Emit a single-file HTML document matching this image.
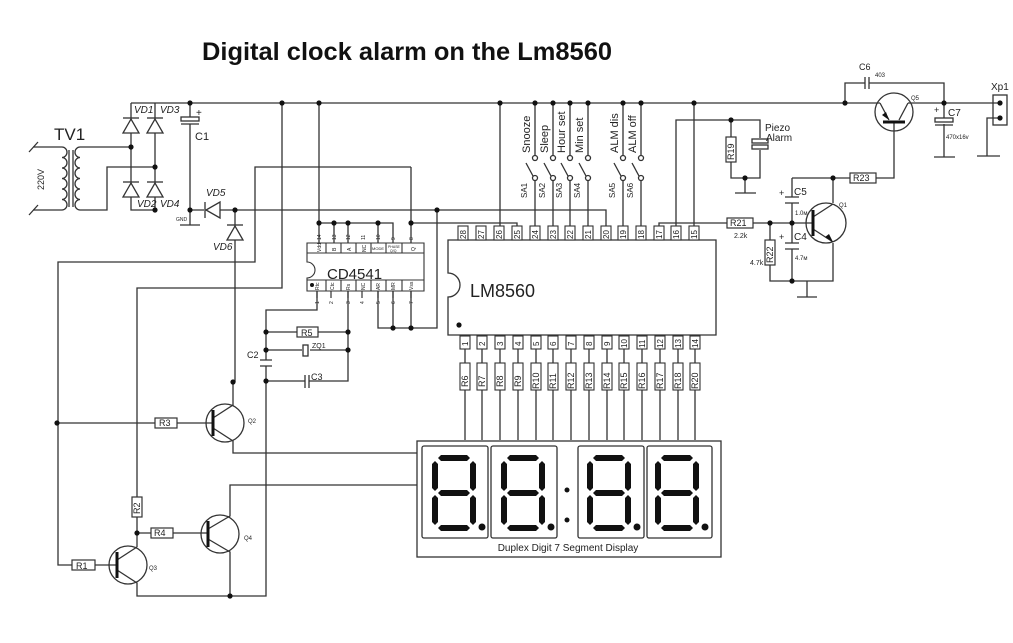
<!DOCTYPE html>
<html><head><meta charset="utf-8"><style>
html,body{margin:0;padding:0;background:#fff}
svg{display:block}
text{font-family:"Liberation Sans",sans-serif;fill:#222}
</style></head><body>
<svg width="1013" height="643" viewBox="0 0 1013 643" xmlns="http://www.w3.org/2000/svg">
<defs>
<g id="dig">
<polygon points="6,3 9,0 35,0 38,3 35,6 9,6" />
<polygon points="6,38 9,35 35,35 38,38 35,41 9,41" />
<polygon points="6,73 9,70 35,70 38,73 35,76 9,76" />
<polygon points="3,6 6,9 6,33 3,36 0,33 0,9" />
<polygon points="41,6 44,9 44,33 41,36 38,33 38,9" />
<polygon points="3,40 6,43 6,67 3,70 0,67 0,43" />
<polygon points="41,40 44,43 44,67 41,70 38,67 38,43" />
<circle cx="50" cy="72" r="3.5"/>
</g>
</defs>
<rect width="1013" height="643" fill="#fff"/>
<text x="202" y="60" font-size="25" font-weight="bold" textLength="410" lengthAdjust="spacingAndGlyphs" style="fill:#111">Digital clock alarm on the Lm8560</text>

<g stroke="#333" stroke-width="1.3" fill="none">
<!-- top rail -->
<path d="M131 103 H880 M908 103 H1000"/>
<!-- bridge -->
<path d="M131 103 V210 H155 M155 103 V210"/>
<path d="M131 147 H80 M155 167 H107 V210 H80"/>
<!-- transformer -->
<path d="M33 147 H62 M33 210 H62"/>
<path d="M62 147 a5 5.25 0 0 1 0 10.5 a5 5.25 0 0 1 0 10.5 a5 5.25 0 0 1 0 10.5 a5 5.25 0 0 1 0 10.5 a5 5.25 0 0 1 0 10.5 a5 5.25 0 0 1 0 10.5"/>
<path d="M80 147 a5 5.25 0 0 0 0 10.5 a5 5.25 0 0 0 0 10.5 a5 5.25 0 0 0 0 10.5 a5 5.25 0 0 0 0 10.5 a5 5.25 0 0 0 0 10.5 a5 5.25 0 0 0 0 10.5"/>
<path d="M69 150 V207 M73 150 V207"/>
<path d="M29 152 L38 142 M29 215 L38 205"/>
<!-- C1 -->
<path d="M190 103 V117 M190 124 V225 M180 225 H200"/>
<rect x="181" y="117" width="18" height="4"/>
<path d="M181 124 H199"/>
<!-- GND line -->
<path d="M190 210 H204 M220 210 H606 V230"/>
<!-- VD6 -->
<path d="M235 210 V382"/>
<!-- CD4541 connections -->
<path d="M319 103 V243 M319 223 H393 V243 M334 223 V243 M348 223 V243 M378 223 V243"/>
<path d="M411 167 H255 V262 H58 V565 H72 M95 565 H117"/>
<path d="M411 167 V243 M411 223 H517 V230"/>
<path d="M282 103 V288 H137 V497 M137 517 V547"/>
<path d="M437 210 V328 H378 V291 M393 291 V328 M411 291 V328"/>
<path d="M317 291 V310 H266 V360 M266 366 V596 H230 M266 332 H297 M318 332 H348 M348 291 V381 H309 M305 381 H266"/>
<path d="M266 350 H302 M310 350 H348"/>
<path d="M260 360 H272 M260 366 H272 M305 375 V388 M309 375 V388"/>
<rect x="303" y="345" width="5" height="11"/>
<!-- Q2 -->
<path d="M57 423 H155 M177 423 H213"/>
<circle cx="225" cy="423" r="19"/>
<path d="M213 410 V436 M213 418 L233 405 V382 M213 428 L233 441 V453 H417"/>
<!-- Q4 -->
<path d="M137 533 H151 M173 533 H208"/>
<circle cx="220" cy="534" r="19"/>
<path d="M208 521 V547 M208 529 L230 516 V485 H417 M208 539 L230 552 V596"/>
<!-- Q3 -->
<circle cx="128" cy="565" r="19"/>
<path d="M117 552 V578 M117 560 L137 547 M117 570 L137 583 V596 H230"/>
<!-- LM8560 box -->
<path d="M448 240 H716 V335 H448 V297 A12 12 0 0 0 448 273 Z"/>
<!-- pin26 & pin15 to rail -->
<path d="M500 103 V230 M694 103 V230"/>
<!-- switches -->
<path d="M535 103 V155 M535 181 V230 M553 103 V155 M553 181 V230 M570 103 V155 M570 181 V230 M588 103 V155 M588 181 V230 M623 103 V155 M623 181 V230 M641 103 V155 M641 181 V230"/>
<path d="M533 176 L526 163 M551 176 L544 163 M568 176 L561 163 M586 176 L579 163 M621 176 L614 163 M639 176 L632 163"/>
<g fill="#fff">
<circle cx="535" cy="158" r="2.5"/><circle cx="535" cy="178" r="2.5"/>
<circle cx="553" cy="158" r="2.5"/><circle cx="553" cy="178" r="2.5"/>
<circle cx="570" cy="158" r="2.5"/><circle cx="570" cy="178" r="2.5"/>
<circle cx="588" cy="158" r="2.5"/><circle cx="588" cy="178" r="2.5"/>
<circle cx="623" cy="158" r="2.5"/><circle cx="623" cy="178" r="2.5"/>
<circle cx="641" cy="158" r="2.5"/><circle cx="641" cy="178" r="2.5"/>
</g>
<!-- pin16 piezo -->
<path d="M676 230 V120 H760 V138 M760 150 V178 H731 V162 M731 137 V120 M745 178 V193 M735 193 H756"/>
<rect x="752" y="139" width="16" height="4"/><rect x="752" y="145" width="16" height="4"/>
<!-- pin17 -->
<path d="M659 230 V223 H727 M753 223 H813 M770 223 V240 M770 265 V281 H833 V243 M807 281 V297 M797 297 H817"/>
<path d="M792 178 V197 M792 203 V243 M792 249 V281 M785 197 H799 M785 203 H799 M785 243 H799 M785 249 H799"/>
<path d="M792 178 H850 M876 178 H894 V122 M833 178 V203"/>
<circle cx="826" cy="223" r="20"/>
<path d="M813 210 V236 M813 217 L833 204 M813 229 L833 242"/>
<!-- Q5, C6, C7, Xp1 -->
<path d="M845 103 V83 H865 M869 83 H944 V103 M865 77 V89 M869 77 V89"/>
<circle cx="894" cy="112" r="19"/>
<path d="M880 103 L889 120 M908 103 L899 120 M883 122 H905"/>
<path d="M944 103 V118 M944 124 V157 M934 157 H955"/>
<rect x="935" y="118" width="18" height="4"/><path d="M935 125 H953"/>
<rect x="993" y="95" width="14" height="30"/>
<path d="M1000 118 H987 V156 M977 156 H1000"/>
<!-- bottom pins to display -->
<path d="M465 335 V440 M482 335 V440 M500 335 V440 M518 335 V440 M536 335 V440 M553 335 V440 M571 335 V440 M589 335 V440 M607 335 V440 M624 335 V440 M642 335 V440 M660 335 V440 M678 335 V440 M695 335 V440"/>
<!-- display -->
<rect x="417" y="441" width="304" height="116"/>
<rect x="422" y="446" width="66" height="92" rx="2"/>
<rect x="491" y="446" width="66" height="92" rx="2"/>
<rect x="578" y="446" width="66" height="92" rx="2"/>
<rect x="647" y="446" width="65" height="92" rx="2"/>
</g>

<!-- diodes -->
<g stroke="#333" stroke-width="1.3" fill="#fff">
<polygon points="123,133 139,133 131,119"/><path d="M123 118 H139"/>
<polygon points="147,133 163,133 155,119"/><path d="M147 118 H163"/>
<polygon points="123,197 139,197 131,183"/><path d="M123 182 H139"/>
<polygon points="147,197 163,197 155,183"/><path d="M147 182 H163"/>
<polygon points="220,202 220,218 206,210"/><path d="M205 202 V218"/>
<polygon points="227,240 243,240 235,226"/><path d="M227 225 H243"/>
</g>
<!-- resistors -->
<g stroke="#333" stroke-width="1.2" fill="#fff">
<rect x="297" y="327" width="21" height="10"/>
<rect x="155" y="418" width="22" height="10"/>
<rect x="151" y="528" width="22" height="10"/>
<rect x="72" y="560" width="23" height="10"/>
<rect x="132" y="497" width="10" height="20"/>
<rect x="726" y="137" width="10" height="25"/>
<rect x="727" y="218" width="26" height="10"/>
<rect x="765" y="240" width="10" height="25"/>
<rect x="850" y="173" width="26" height="10"/>
</g>
<g stroke="#333" stroke-width="1.1" fill="#fff">
<rect x="460" y="363" width="10" height="27"/><rect x="477" y="363" width="10" height="27"/><rect x="495" y="363" width="10" height="27"/><rect x="513" y="363" width="10" height="27"/><rect x="531" y="363" width="10" height="27"/><rect x="548" y="363" width="10" height="27"/><rect x="566" y="363" width="10" height="27"/><rect x="584" y="363" width="10" height="27"/><rect x="602" y="363" width="10" height="27"/><rect x="619" y="363" width="10" height="27"/><rect x="637" y="363" width="10" height="27"/><rect x="655" y="363" width="10" height="27"/><rect x="673" y="363" width="10" height="27"/><rect x="690" y="363" width="10" height="27"/>
<!-- LM pin boxes top -->
<rect x="458" y="226" width="10" height="14"/><rect x="476" y="226" width="10" height="14"/><rect x="494" y="226" width="10" height="14"/><rect x="512" y="226" width="10" height="14"/><rect x="530" y="226" width="10" height="14"/><rect x="548" y="226" width="10" height="14"/><rect x="565" y="226" width="10" height="14"/><rect x="583" y="226" width="10" height="14"/><rect x="601" y="226" width="10" height="14"/><rect x="618" y="226" width="10" height="14"/><rect x="636" y="226" width="10" height="14"/><rect x="654" y="226" width="10" height="14"/><rect x="671" y="226" width="10" height="14"/><rect x="689" y="226" width="10" height="14"/>
<!-- bottom -->
<rect x="460" y="336" width="10" height="13"/><rect x="477" y="336" width="10" height="13"/><rect x="495" y="336" width="10" height="13"/><rect x="513" y="336" width="10" height="13"/><rect x="531" y="336" width="10" height="13"/><rect x="548" y="336" width="10" height="13"/><rect x="566" y="336" width="10" height="13"/><rect x="584" y="336" width="10" height="13"/><rect x="602" y="336" width="10" height="13"/><rect x="619" y="336" width="10" height="13"/><rect x="637" y="336" width="10" height="13"/><rect x="655" y="336" width="10" height="13"/><rect x="673" y="336" width="10" height="13"/><rect x="690" y="336" width="10" height="13"/>
<!-- CD4541 -->
<path d="M307 243 H424 V291 H307 V278 A8 8 0 0 0 307 262 Z"/>
<path d="M307 253 H424 M307 280 H424 M326 243 V253 M341 243 V253 M356 243 V253 M371 243 V253 M386 243 V253 M402 243 V253 M326 280 V291 M341 280 V291 M356 280 V291 M371 280 V291 M386 280 V291 M402 280 V291" fill="none"/>
</g>
<path d="M317 291 V298 M331 291 V298 M348 291 V298 M362 291 V298 M378 291 V298 M393 291 V298 M411 291 V298" stroke="#333" stroke-width="1.2"/>

<!-- dots -->
<g fill="#111">
<circle cx="131" cy="147" r="2.6"/><circle cx="155" cy="167" r="2.6"/><circle cx="155" cy="210" r="2.6"/><circle cx="190" cy="103" r="2.6"/><circle cx="190" cy="210" r="2.6"/><circle cx="235" cy="210" r="2.6"/><circle cx="282" cy="103" r="2.6"/><circle cx="319" cy="103" r="2.6"/><circle cx="437" cy="210" r="2.6"/>
<circle cx="319" cy="223" r="2.6"/><circle cx="334" cy="223" r="2.6"/><circle cx="348" cy="223" r="2.6"/><circle cx="378" cy="223" r="2.6"/><circle cx="411" cy="223" r="2.6"/>
<circle cx="393" cy="328" r="2.6"/><circle cx="411" cy="328" r="2.6"/>
<circle cx="266" cy="332" r="2.6"/><circle cx="348" cy="332" r="2.6"/><circle cx="266" cy="350" r="2.6"/><circle cx="348" cy="350" r="2.6"/><circle cx="266" cy="381" r="2.6"/><circle cx="233" cy="382" r="2.6"/>
<circle cx="57" cy="423" r="2.6"/><circle cx="137" cy="533" r="2.6"/><circle cx="230" cy="596" r="2.6"/>
<circle cx="500" cy="103" r="2.6"/><circle cx="535" cy="103" r="2.6"/><circle cx="553" cy="103" r="2.6"/><circle cx="570" cy="103" r="2.6"/><circle cx="588" cy="103" r="2.6"/><circle cx="623" cy="103" r="2.6"/><circle cx="641" cy="103" r="2.6"/><circle cx="694" cy="103" r="2.6"/>
<circle cx="731" cy="120" r="2.6"/><circle cx="745" cy="178" r="2.6"/><circle cx="770" cy="223" r="2.6"/><circle cx="792" cy="223" r="2.6"/><circle cx="792" cy="281" r="2.6"/><circle cx="833" cy="178" r="2.6"/>
<circle cx="845" cy="103" r="2.6"/><circle cx="944" cy="103" r="2.6"/><circle cx="1000" cy="103" r="2.6"/><circle cx="1000" cy="118" r="2.6"/>
<circle cx="459" cy="325" r="2.6"/><circle cx="312" cy="285" r="2"/>
<circle cx="567" cy="490" r="2.5"/><circle cx="567" cy="520" r="2.5"/>
<polygon points="833,242 825,237 829,234"/><polygon points="889,120 882,115 886,112"/>
<use href="#dig" x="432" y="455"/><use href="#dig" x="501" y="455"/><use href="#dig" x="587" y="455"/><use href="#dig" x="655" y="455"/>
</g>
<g stroke="#111" stroke-width="3">
<path d="M213 410 V436 M208 521 V547 M117 552 V578 M813 210 V236 M883 122 H905"/>
</g>

<!-- labels -->
<text x="54" y="140" font-size="17">TV1</text>
<text transform="translate(44,190) rotate(-90)" font-size="9">220V</text>
<g font-size="10" font-style="italic">
<text x="134" y="113">VD1</text><text x="160" y="113">VD3</text>
<text x="137" y="207">VD2</text><text x="160" y="207">VD4</text>
<text x="206" y="196">VD5</text><text x="213" y="250">VD6</text>
</g>
<text x="196" y="116" font-size="10">+</text>
<text x="195" y="140" font-size="11">C1</text>
<text x="176" y="221" font-size="5">GND</text>
<text x="327" y="279" font-size="15">CD4541</text>
<g font-size="5">
<text transform="translate(321,240) rotate(-90)">14</text><text transform="translate(336,240) rotate(-90)">13</text><text transform="translate(350,240) rotate(-90)">12</text><text transform="translate(365,240) rotate(-90)">11</text><text transform="translate(380,240) rotate(-90)">10</text><text transform="translate(395,240) rotate(-90)">9</text><text transform="translate(413,240) rotate(-90)">8</text>
<text transform="translate(321,252) rotate(-90)">Vdd</text><text transform="translate(336,251) rotate(-90)">B</text><text transform="translate(351,251) rotate(-90)">A</text><text transform="translate(366,252) rotate(-90)">NC</text><text x="372" y="250" font-size="4">MODE</text><text x="388" y="248" font-size="3.5">PHASE</text><text x="390" y="252" font-size="3.5">Q/Q</text><text transform="translate(415,251) rotate(-90)">Q</text>
<text transform="translate(319,290) rotate(-90)">Rtc</text><text transform="translate(334,290) rotate(-90)">Ctc</text><text transform="translate(350,290) rotate(-90)">Rs</text><text transform="translate(365,290) rotate(-90)">NC</text><text transform="translate(380,290) rotate(-90)">AR</text><text transform="translate(395,290) rotate(-90)">MR</text><text transform="translate(413,290) rotate(-90)">Vss</text>
<text transform="translate(319,304) rotate(-90)">1</text><text transform="translate(333,304) rotate(-90)">2</text><text transform="translate(350,304) rotate(-90)">3</text><text transform="translate(364,304) rotate(-90)">4</text><text transform="translate(380,304) rotate(-90)">5</text><text transform="translate(395,304) rotate(-90)">6</text><text transform="translate(413,304) rotate(-90)">7</text>
</g>
<g font-size="9">
<text x="301" y="336">R5</text><text x="312" y="348" font-size="7">ZQ1</text>
<text x="247" y="358">C2</text><text x="311" y="380">C3</text>
<text x="159" y="426">R3</text><text x="154" y="536">R4</text><text x="76" y="569">R1</text>
<text transform="translate(140,514) rotate(-90)">R2</text>
<text x="248" y="423" font-size="6">Q2</text><text x="244" y="540" font-size="6">Q4</text><text x="149" y="570" font-size="6">Q3</text>
</g>
<text x="470" y="297" font-size="18">LM8560</text>
<g font-size="8">
<text transform="translate(466,239) rotate(-90)">28</text><text transform="translate(484,239) rotate(-90)">27</text><text transform="translate(502,239) rotate(-90)">26</text><text transform="translate(520,239) rotate(-90)">25</text><text transform="translate(538,239) rotate(-90)">24</text><text transform="translate(556,239) rotate(-90)">23</text><text transform="translate(573,239) rotate(-90)">22</text><text transform="translate(591,239) rotate(-90)">21</text><text transform="translate(609,239) rotate(-90)">20</text><text transform="translate(626,239) rotate(-90)">19</text><text transform="translate(644,239) rotate(-90)">18</text><text transform="translate(662,239) rotate(-90)">17</text><text transform="translate(679,239) rotate(-90)">16</text><text transform="translate(697,239) rotate(-90)">15</text>
<text transform="translate(468,346) rotate(-90)">1</text><text transform="translate(485,346) rotate(-90)">2</text><text transform="translate(503,346) rotate(-90)">3</text><text transform="translate(521,346) rotate(-90)">4</text><text transform="translate(539,346) rotate(-90)">5</text><text transform="translate(556,346) rotate(-90)">6</text><text transform="translate(574,346) rotate(-90)">7</text><text transform="translate(592,346) rotate(-90)">8</text><text transform="translate(610,346) rotate(-90)">9</text><text transform="translate(627,348) rotate(-90)">10</text><text transform="translate(645,348) rotate(-90)">11</text><text transform="translate(663,348) rotate(-90)">12</text><text transform="translate(681,348) rotate(-90)">13</text><text transform="translate(698,348) rotate(-90)">14</text>
</g>
<g font-size="9">
<text transform="translate(468,387) rotate(-90)">R6</text><text transform="translate(485,387) rotate(-90)">R7</text><text transform="translate(503,387) rotate(-90)">R8</text><text transform="translate(521,387) rotate(-90)">R9</text><text transform="translate(539,389) rotate(-90)">R10</text><text transform="translate(556,389) rotate(-90)">R11</text><text transform="translate(574,389) rotate(-90)">R12</text><text transform="translate(592,389) rotate(-90)">R13</text><text transform="translate(610,389) rotate(-90)">R14</text><text transform="translate(627,389) rotate(-90)">R15</text><text transform="translate(645,389) rotate(-90)">R16</text><text transform="translate(663,389) rotate(-90)">R17</text><text transform="translate(681,389) rotate(-90)">R18</text><text transform="translate(698,389) rotate(-90)">R20</text>
</g>
<g font-size="11">
<text transform="translate(530,153) rotate(-90)">Snooze</text><text transform="translate(548,153) rotate(-90)">Sleep</text><text transform="translate(565,153) rotate(-90)">Hour set</text><text transform="translate(583,153) rotate(-90)">Min set</text><text transform="translate(618,153) rotate(-90)">ALM dis</text><text transform="translate(636,153) rotate(-90)">ALM off</text>
</g>
<g font-size="8">
<text transform="translate(527,198) rotate(-90)">SA1</text><text transform="translate(545,198) rotate(-90)">SA2</text><text transform="translate(562,198) rotate(-90)">SA3</text><text transform="translate(580,198) rotate(-90)">SA4</text><text transform="translate(615,198) rotate(-90)">SA5</text><text transform="translate(633,198) rotate(-90)">SA6</text>
</g>
<g font-size="9">
<text transform="translate(734,160) rotate(-90)">R19</text>
<text x="730" y="226">R21</text><text x="734" y="238" font-size="7">2.2k</text>
<text transform="translate(773,263) rotate(-90)">R22</text><text x="750" y="265" font-size="7">4.7k</text>
<text x="853" y="181">R23</text>
</g>
<text x="765" y="131" font-size="10">Piezo</text><text x="766" y="141" font-size="10">Alarm</text>
<text x="794" y="195" font-size="10">C5</text><text x="779" y="196" font-size="9">+</text>
<text x="795" y="215" font-size="6">1.0м</text>
<text x="794" y="240" font-size="10">C4</text><text x="779" y="240" font-size="9">+</text>
<text x="795" y="260" font-size="6">4.7м</text>
<text x="839" y="207" font-size="6">Q1</text>
<text x="859" y="70" font-size="9">C6</text><text x="875" y="77" font-size="6">403</text>
<text x="911" y="100" font-size="6">Q5</text>
<text x="934" y="113" font-size="9">+</text><text x="948" y="116" font-size="10">C7</text>
<text x="946" y="139" font-size="6">470x16v</text>
<text x="991" y="90" font-size="10">Xp1</text>
<text x="568" y="551" font-size="10" text-anchor="middle">Duplex Digit 7 Segment Display</text>
</svg>
</body></html>
